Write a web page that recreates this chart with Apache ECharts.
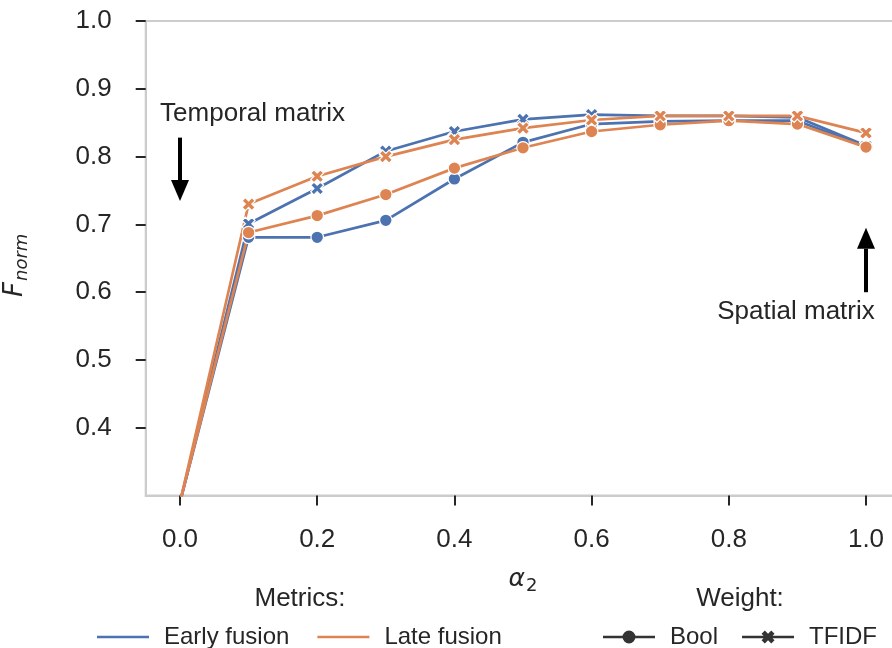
<!DOCTYPE html>
<html>
<head>
<meta charset="utf-8">
<script src="https://cdn.jsdelivr.net/npm/echarts@6/dist/echarts.min.js"></script>
<style>
  html, body { margin: 0; padding: 0; background: #fff; }
  #main { width: 892px; height: 648px; }
</style>
</head>
<body>
<div id="main"></div>
<script>
// alpha_2 values on the x axis
const alphas = [0.0, 0.1, 0.2, 0.3, 0.4, 0.5, 0.6, 0.7, 0.8, 0.9, 1.0];
// F_norm (first point sits below the visible range)
const earlyBool  = [0.29, 0.681, 0.681, 0.706, 0.767, 0.821, 0.848, 0.852, 0.853, 0.853, 0.814];
const earlyTfidf = [0.29, 0.701, 0.753, 0.808, 0.837, 0.855, 0.862, 0.860, 0.860, 0.858, 0.816];
const lateBool   = [0.29, 0.688, 0.713, 0.744, 0.783, 0.813, 0.837, 0.847, 0.853, 0.848, 0.814];
const lateTfidf  = [0.29, 0.730, 0.771, 0.800, 0.825, 0.842, 0.854, 0.860, 0.860, 0.860, 0.835];
const xTicks = [0.0, 0.2, 0.4, 0.6, 0.8, 1.0];
const yTicks = [0.4, 0.5, 0.6, 0.7, 0.8, 0.9, 1.0];

const BLUE = "#4C72B0";
const ORANGE = "#DD8452";
const INK = "#262626";
const FONT = "Liberation Sans";

// filled "X" marker like matplotlib
const xMarker = "path://M-6,-3 L-3,-6 L0,-3 L3,-6 L6,-3 L3,0 L6,3 L3,6 L0,3 L-3,6 L-6,3 L-3,0 Z";
// legend icons: line + marker
const boolIcon = "path://M0,5.2 L52,5.2 L52,7.8 L0,7.8 Z M26,0 A6.5,6.5 0 1,1 26,13 A6.5,6.5 0 1,1 26,0 Z";
const tfidfIcon = "path://M0,5.2 L52,5.2 L52,7.8 L0,7.8 Z M19.5,3.25 L22.75,0 L26,3.25 L29.25,0 L32.5,3.25 L29.25,6.5 L32.5,9.75 L29.25,13 L26,9.75 L22.75,13 L19.5,9.75 L22.75,6.5 Z";

function pairs(ys) {
  return alphas.map((a, i) => [a, ys[i]]);
}

function lineSeries(name, ys, color, symbol) {
  return {
    name: name,
    type: "line",
    data: pairs(ys),
    symbol: symbol,
    symbolSize: symbol === "circle" ? 12.5 : 13,
    showAllSymbol: true,
    clip: true,
    lineStyle: { color: color, width: 2.7 },
    itemStyle: { color: color, borderColor: "#fff", borderWidth: 1.2 },
    emphasis: { disabled: true },
    animation: false
  };
}

function dummy(name, color) {
  return { name: name, type: "line", data: [], itemStyle: { color: color }, lineStyle: { color: color } };
}

const chartDom = document.getElementById("main");
const myChart = echarts.init(chartDom);

const option = {
  animation: false,
  textStyle: { fontFamily: FONT },
  grid: {
    left: 145.7,
    top: 21,
    width: 754.6,
    height: 474.6,
    containLabel: false,
    outerBoundsMode: "none",
    show: true,
    borderColor: "#cccccc",
    borderWidth: 2,
    backgroundColor: "#fff"
  },
  xAxis: {
    type: "value",
    min: -0.05,
    max: 1.05,
    name: "{a|α}{s|2}",
    nameLocation: "middle",
    nameGap: 68,
    nameTextStyle: {
      rich: {
        a: { fontFamily: "DejaVu Sans", fontStyle: "italic", fontSize: 25, color: INK },
        s: { fontFamily: "DejaVu Sans", fontSize: 18, color: INK, padding: [14, 0, 0, 1] }
      }
    },
    axisLine: { show: true, onZero: false, lineStyle: { color: "#cccccc", width: 2 } },
    axisTick: { show: true, length: 10, customValues: xTicks, lineStyle: { color: INK, width: 2 } },
    axisLabel: {
      customValues: xTicks,
      margin: 31,
      fontSize: 26,
      color: INK,
      fontFamily: FONT,
      formatter: v => v.toFixed(1)
    },
    splitLine: { show: false }
  },
  yAxis: {
    type: "value",
    min: 0.3,
    max: 1.0,
    interval: 0.1,
    name: "{f|F}{s|norm}",
    nameLocation: "middle",
    nameRotate: 90,
    nameGap: 114,
    nameTextStyle: {
      padding: [0, 14, 0, 0],
      rich: {
        f: { fontFamily: "DejaVu Sans", fontStyle: "italic", fontSize: 26, color: INK },
        s: { fontFamily: "DejaVu Sans", fontStyle: "italic", fontSize: 18, color: INK, padding: [14, 0, 0, 1] }
      }
    },
    axisLine: { show: true, onZero: false, lineStyle: { color: "#cccccc", width: 2 } },
    axisTick: { show: true, length: 10, customValues: yTicks, lineStyle: { color: INK, width: 2 } },
    axisLabel: {
      customValues: yTicks,
      margin: 34,
      fontSize: 26,
      color: INK,
      fontFamily: FONT,
      formatter: v => v.toFixed(1)
    },
    splitLine: { show: false }
  },
  legend: [
    {
      data: ["Early fusion", "Late fusion"],
      left: 92,
      top: 620,
      icon: "rect",
      itemWidth: 52,
      itemHeight: 2.7,
      itemGap: 28,
      textStyle: { fontSize: 24, color: INK, fontFamily: FONT, padding: [0, 0, 0, 10] },
      selectedMode: false
    },
    {
      data: [
        { name: "Bool", icon: boolIcon },
        { name: "TFIDF", icon: tfidfIcon }
      ],
      left: 598,
      top: 620,
      itemWidth: 52,
      itemHeight: 13,
      itemGap: 24,
      textStyle: { fontSize: 24, color: INK, fontFamily: FONT, padding: [0, 0, 0, 10] },
      selectedMode: false
    }
  ],
  series: [
    lineSeries("Early fusion / Bool", earlyBool, BLUE, "circle"),
    lineSeries("Early fusion / TFIDF", earlyTfidf, BLUE, xMarker),
    lineSeries("Late fusion / Bool", lateBool, ORANGE, "circle"),
    lineSeries("Late fusion / TFIDF", lateTfidf, ORANGE, xMarker),
    dummy("Early fusion", BLUE),
    dummy("Late fusion", ORANGE),
    dummy("Bool", "#333333"),
    dummy("TFIDF", "#333333")
  ]
};

myChart.setOption(option);

// annotations, placed in data coordinates
function px(x, y) {
  return myChart.convertToPixel({ gridIndex: 0 }, [x, y]);
}
function arrow(x, yFrom, yTo) {
  const a = px(x, yFrom);
  const b = px(x, yTo);
  const dir = b[1] > a[1] ? 1 : -1;
  const headLen = 21;
  const headHalf = 9;
  const baseY = b[1] - dir * headLen;
  return [
    {
      type: "line",
      shape: { x1: a[0], y1: a[1], x2: a[0], y2: baseY },
      style: { stroke: "#000", lineWidth: 4 },
      silent: true
    },
    {
      type: "polygon",
      shape: { points: [[b[0], b[1]], [b[0] - headHalf, baseY], [b[0] + headHalf, baseY]] },
      style: { fill: "#000" },
      silent: true
    }
  ];
}
function label(text, x, y, align) {
  const p = px(x, y);
  return {
    type: "text",
    x: p[0],
    y: p[1],
    style: {
      text: text,
      fontSize: 26,
      fontFamily: FONT,
      fill: INK,
      align: align,
      verticalAlign: "middle"
    },
    silent: true
  };
}
function title(text, x, y) {
  return {
    type: "text",
    x: x,
    y: y,
    style: { text: text, fontSize: 26, fontFamily: FONT, fill: INK, align: "center", verticalAlign: "middle" },
    silent: true
  };
}

myChart.setOption({
  graphic: [
    label("Temporal matrix", -0.029, 0.863, "left"),
    ...arrow(0.0, 0.828, 0.7345),
    label("Spatial matrix", 0.898, 0.571, "center"),
    ...arrow(1.0, 0.600, 0.695),
    title("Metrics:", 300, 599),
    title("Weight:", 740, 599)
  ]
});
</script>
</body>
</html>
